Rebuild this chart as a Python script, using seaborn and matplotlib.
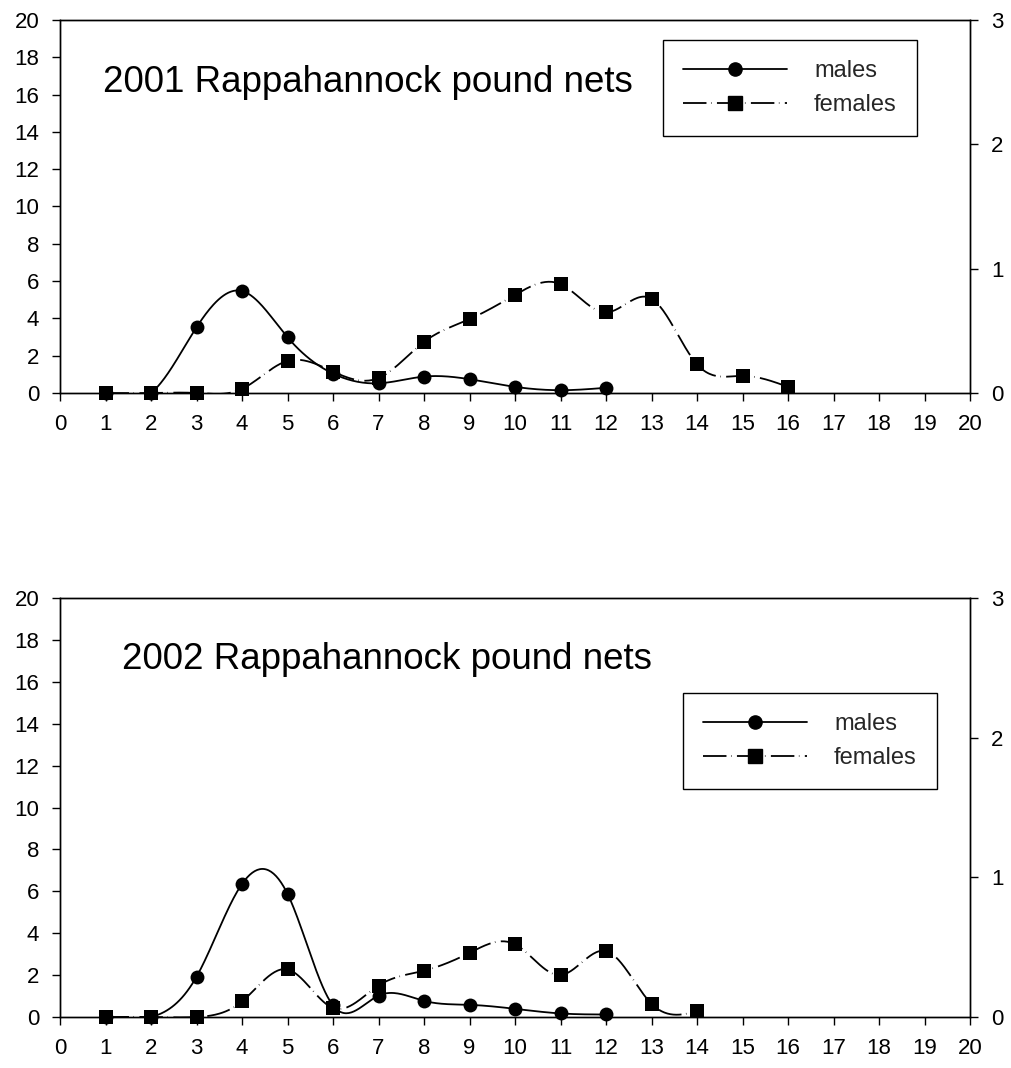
import numpy as np
import pandas as pd
import matplotlib
matplotlib.use("Agg")
import matplotlib.pyplot as plt
from matplotlib.lines import Line2D
import seaborn as sns

# Catch composition by week, Rappahannock pound nets
weeks_2001_m = [1, 2, 3, 4, 5, 6, 7, 8, 9, 10, 11, 12]
males_2001 = [0.0, 0.0, 3.52, 5.47, 2.99, 1.04, 0.52, 0.88, 0.74, 0.33, 0.15, 0.28]
weeks_2001_f = [1, 2, 3, 4, 5, 6, 7, 8, 9, 10, 11, 12, 13, 14, 15, 16]
females_2001 = [0.0, 0.0, 0.0, 0.22, 1.72, 1.15, 0.8, 2.74, 3.96, 5.26, 5.84, 4.32, 5.06, 1.54, 0.92, 0.33]

weeks_2002_m = [1, 2, 3, 4, 5, 6, 7, 8, 9, 10, 11, 12]
males_2002 = [0.0, 0.0, 1.92, 6.35, 5.88, 0.55, 1.02, 0.77, 0.58, 0.39, 0.17, 0.12]
weeks_2002_f = [1, 2, 3, 4, 5, 6, 7, 8, 9, 10, 11, 12, 13, 14]
females_2002 = [0.0, 0.0, 0.0, 0.74, 2.27, 0.43, 1.5, 2.21, 3.06, 3.47, 2.0, 3.15, 0.63, 0.27]

x_ticks = list(range(0, 21))
left_ticks = list(range(0, 21, 2))
right_ticks = [0, 1, 2, 3]
titles = ["2001 Rappahannock pound nets", "2002 Rappahannock pound nets"]
series_labels = ["males", "females"]


def natural_spline(x, y, n=400):
    """Natural cubic spline through (x, y), sampled densely."""
    x = np.asarray(x, float)
    y = np.asarray(y, float)
    k = len(x)
    h = np.diff(x)
    A = np.zeros((k, k))
    b = np.zeros(k)
    A[0, 0] = A[-1, -1] = 1.0
    for i in range(1, k - 1):
        A[i, i - 1] = h[i - 1]
        A[i, i] = 2 * (h[i - 1] + h[i])
        A[i, i + 1] = h[i]
        b[i] = 6 * ((y[i + 1] - y[i]) / h[i] - (y[i] - y[i - 1]) / h[i - 1])
    M = np.linalg.solve(A, b)
    xs = np.linspace(x[0], x[-1], n)
    idx = np.clip(np.searchsorted(x, xs) - 1, 0, k - 2)
    x0, x1 = x[idx], x[idx + 1]
    hh = x1 - x0
    t0, t1 = x1 - xs, xs - x0
    ys = (M[idx] * t0 ** 3 / (6 * hh) + M[idx + 1] * t1 ** 3 / (6 * hh)
          + (y[idx] / hh - M[idx] * hh / 6) * t0
          + (y[idx + 1] / hh - M[idx + 1] * hh / 6) * t1)
    return xs, ys


sns.set_theme(style="white")
plt.rcParams["font.family"] = ["Liberation Sans", "DejaVu Sans"]

FEMALE_DASH = (13, 2.5, 0.3, 3)
LW = 1.3
TICK_FS = 16

fig = plt.figure(figsize=(10.11, 10.68), dpi=100)
ax_top = fig.add_axes([60 / 1011, 1 - 393 / 1068, 910 / 1011, 373 / 1068])
ax_bot = fig.add_axes([60 / 1011, 1 - 1017 / 1068, 910 / 1011, 419 / 1068])

panels = [
    (ax_top, weeks_2001_m, males_2001, weeks_2001_f, females_2001, titles[0],
     (103 / 1011, 1 - 92 / 1068), (663 / 1011, 1 - 40 / 1068)),
    (ax_bot, weeks_2002_m, males_2002, weeks_2002_f, females_2002, titles[1],
     (122 / 1011, 1 - 669 / 1068), (683 / 1011, 1 - 693 / 1068)),
]

for ax, wm, vm, wf, vf, title, tpos, lpos in panels:
    xm, ym = natural_spline(wm, vm)
    xf, yf = natural_spline(wf, vf)
    sns.lineplot(x=xm, y=ym, ax=ax, color="black", lw=LW, sort=False)
    sns.lineplot(x=xf, y=yf, ax=ax, color="black", lw=LW, sort=False)
    ax.lines[-1].set_dashes(FEMALE_DASH)
    sns.scatterplot(x=wm, y=vm, ax=ax, marker="o", s=100, color="black",
                    edgecolor="black", linewidth=0, clip_on=False, zorder=5)
    sns.scatterplot(x=wf, y=vf, ax=ax, marker="s", s=100, color="black",
                    edgecolor="black", linewidth=0, clip_on=False, zorder=5)

    ax.set_xlim(0, 20)
    ax.set_ylim(0, 20)
    ax.set_xticks(x_ticks)
    ax.set_yticks(left_ticks)
    ax.set_xlabel("")
    ax.set_ylabel("")
    for sp in ax.spines.values():
        sp.set_visible(True)
        sp.set_color("black")
        sp.set_linewidth(1.0)
    ax.tick_params(axis="both", direction="out", length=6, width=1.0,
                   color="black", labelsize=TICK_FS, labelcolor="black",
                   bottom=True, left=True, pad=9)

    ax2 = ax.twinx()
    ax2.set_ylim(0, 3)
    ax2.set_yticks(right_ticks)
    ax2.tick_params(axis="y", direction="out", length=6, width=1.0,
                    color="black", labelsize=TICK_FS, labelcolor="black",
                    right=True, pad=9)
    for sp in ax2.spines.values():
        sp.set_visible(True)
        sp.set_color("black")
        sp.set_linewidth(1.0)
    ax2.grid(False)
    ax.grid(False)

    fig.text(tpos[0], tpos[1], title, fontsize=26.5, va="baseline",
             ha="left", color="black")

    handles = [
        Line2D([], [], color="black", lw=LW, marker="o", markersize=9.5),
        Line2D([], [], color="black", lw=LW, marker="s", markersize=9.5,
               dashes=FEMALE_DASH),
    ]
    leg = ax2.legend(handles, series_labels, loc="upper left",
                     bbox_to_anchor=lpos, bbox_transform=fig.transFigure,
                     fontsize=17, frameon=True, fancybox=False,
                     edgecolor="black", framealpha=1, handlelength=4.4,
                     handletextpad=1.15, borderpad=0.85, labelspacing=0.5,
                     borderaxespad=0)
    leg.get_frame().set_linewidth(1.0)

fig.savefig("out.png", dpi=100)
